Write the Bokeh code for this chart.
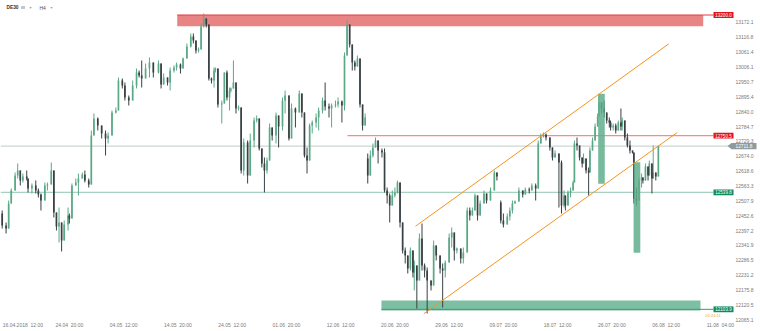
import numpy as np
from bokeh.plotting import figure
from bokeh.models import Range1d, ColumnDataSource
from bokeh.core.properties import value
from bokeh.embed import file_html
from bokeh.resources import INLINE

# ---------------- data (DE30, H4) ----------------
bar = [
    0, 3, 5, 7, 10, 12, 14, 16, 19, 20,
    23, 26, 28, 30, 33, 35, 38, 40, 42, 44,
    46, 48, 51, 52, 54, 57, 59, 62, 64, 67,
    69, 71, 74, 77, 80, 82, 85, 88, 90, 93,
    95, 98, 101, 104, 106, 108, 111, 114, 117, 121,
    123, 125, 128, 130, 133, 135, 138, 140, 143, 146,
    148, 150, 152, 154, 156, 158, 160, 162, 164, 165,
    167, 170, 172, 174, 176, 177, 179, 181, 183, 185,
    187, 190, 192, 195, 197, 199, 201, 203, 205, 207,
    209, 212, 214, 217, 219, 222, 224, 227, 230, 232,
    234, 236, 238, 240, 243, 245, 248, 250, 253, 255,
    258, 260, 263, 265, 267, 269, 271, 273, 275, 277,
    279, 281, 283, 285, 287, 289, 291, 294, 296, 298,
    300, 302, 304, 306, 308, 310, 312, 314, 316, 318,
    319, 321, 323, 325, 327, 329, 332, 334, 336, 339,
    341, 343, 346, 348, 350, 352, 355, 357, 360, 362,
    364, 366, 368, 370, 373, 375, 378, 381, 383, 386,
    388, 391, 393, 395, 397, 400, 403, 405, 408, 410,
    413, 415, 417, 419, 421, 424, 426, 428, 431, 433,
    435, 436, 438, 440, 442, 443, 445, 447, 449, 450,
    452, 454, 455, 457, 459, 461, 462, 464, 466, 468,
    470, 471, 473, 475, 477, 479, 480, 482, 484, 486,
    488, 489, 491, 493, 495, 496, 498, 500, 501, 503,
    504, 506, 508,
]
high = [
    12472.0, 12427.3, 12509.2, 12553.9, 12613.5, 12647.0, 12602.3, 12609.7, 12620.9, 12583.7,
    12572.5, 12583.7, 12553.9, 12535.3, 12576.2, 12576.2, 12650.7, 12620.9, 12464.5, 12483.1,
    12427.3, 12434.7, 12483.1, 12460.8, 12572.5, 12591.1, 12609.7, 12613.5, 12620.9, 12591.1,
    12769.9, 12833.2, 12818.3, 12788.5, 12769.9, 12762.4, 12844.4, 12855.5, 12967.3, 12963.5,
    12948.6, 12900.2, 12956.1, 13000.8, 12993.3, 13030.6, 13019.4, 13041.7, 13023.1, 13030.6,
    13019.4, 12982.1, 12967.3, 13004.5, 13011.9, 13023.1, 13019.4, 13041.7, 13093.9, 13131.1,
    13131.1, 13105.0, 13079.0, 13168.3, 13205.6, 13187.0, 13164.6, 12967.3, 13004.5, 13004.5,
    13000.8, 12881.6, 12985.9, 12993.3, 12930.0, 12930.0, 13030.6, 12948.6, 12863.0, 12855.5,
    12740.1, 12732.6, 12758.7, 12818.3, 12825.7, 12814.6, 12702.8, 12669.3, 12669.3, 12795.9,
    12781.1, 12836.9, 12825.7, 12892.8, 12918.8, 12900.2, 12870.4, 12855.5, 12918.8, 12907.7,
    12836.9, 12706.6, 12795.9, 12807.1, 12833.2, 12855.5, 12892.8, 12948.6, 12870.4, 12870.4,
    12881.6, 12892.8, 12881.6, 13060.4, 13179.5, 13164.6, 13090.1, 13030.6, 13049.2, 13038.0,
    12866.7, 12833.2, 12684.2, 12695.4, 12721.5, 12743.8, 12732.6, 12702.8, 12702.8, 12557.6,
    12535.3, 12546.4, 12557.6, 12583.7, 12576.2, 12427.3, 12334.2, 12304.4, 12334.2, 12323.0,
    12285.8, 12267.1, 12386.3, 12423.5, 12274.6, 12259.7, 12211.3, 12360.2, 12341.6, 12304.4,
    12274.6, 12285.8, 12386.3, 12408.7, 12390.0, 12334.2, 12330.5, 12334.2, 12483.1, 12483.1,
    12483.1, 12535.3, 12527.8, 12509.2, 12546.4, 12535.3, 12557.6, 12620.9, 12613.5, 12509.2,
    12460.8, 12460.8, 12483.1, 12509.2, 12509.2, 12557.6, 12546.4, 12557.6, 12557.6, 12572.5,
    12572.5, 12732.6, 12758.7, 12762.4, 12758.7, 12743.8, 12706.6, 12695.4, 12684.2, 12658.2,
    12546.4, 12527.8, 12546.4, 12557.6, 12583.7, 12732.6, 12743.8, 12714.0, 12669.3, 12684.2,
    12665.6, 12632.1, 12706.6, 12743.8, 12795.9, 12833.2, 12900.2, 12874.2, 12881.6, 12836.9,
    12818.3, 12807.1, 12795.9, 12795.9, 12807.1, 12851.8, 12818.3, 12807.1, 12758.7, 12732.6,
    12695.4, 12687.9, 12557.6, 12594.9, 12609.7, 12594.9, 12647.0, 12635.8, 12658.2, 12647.0,
    12714.0, 12613.5, 12714.0,
]
low = [
    12404.9, 12386.3, 12427.3, 12509.2, 12576.2, 12591.1, 12565.1, 12576.2, 12583.7, 12539.0,
    12535.3, 12535.3, 12520.4, 12472.0, 12509.2, 12546.4, 12583.7, 12445.9, 12397.5, 12352.8,
    12319.3, 12360.2, 12397.5, 12423.5, 12442.2, 12565.1, 12527.8, 12591.1, 12576.2, 12557.6,
    12568.8, 12751.3, 12769.9, 12740.1, 12676.8, 12721.5, 12751.3, 12833.2, 12844.4, 12926.3,
    12881.6, 12863.0, 12881.6, 12926.3, 12967.3, 12930.0, 12963.5, 12967.3, 12967.3, 12982.1,
    12926.3, 12941.2, 12937.5, 12918.8, 12985.9, 12993.3, 12982.1, 13000.8, 13038.0, 13079.0,
    13093.9, 13056.6, 13060.4, 13071.5, 13153.5, 13153.5, 12956.1, 12944.9, 12930.0, 12985.9,
    12855.5, 12795.9, 12870.4, 12881.6, 12844.4, 12911.4, 12926.3, 12833.2, 12844.4, 12609.7,
    12602.3, 12572.5, 12602.3, 12706.6, 12799.7, 12695.4, 12632.1, 12539.0, 12609.7, 12658.2,
    12732.6, 12721.5, 12706.6, 12769.9, 12833.2, 12732.6, 12740.1, 12781.1, 12836.9, 12818.3,
    12669.3, 12609.7, 12658.2, 12758.7, 12781.1, 12769.9, 12833.2, 12844.4, 12818.3, 12781.1,
    12855.5, 12855.5, 12799.7, 12844.4, 13049.2, 13079.0, 12993.3, 12993.3, 13008.2, 12855.5,
    12769.9, 12788.5, 12572.5, 12602.3, 12669.3, 12706.6, 12647.0, 12669.3, 12539.0, 12498.0,
    12427.3, 12490.6, 12520.4, 12535.3, 12408.7, 12311.8, 12274.6, 12237.4, 12248.5, 12222.5,
    12174.0, 12107.0, 12211.3, 12248.5, 12222.5, 12088.4, 12174.0, 12192.7, 12285.8, 12237.4,
    12110.7, 12222.5, 12278.3, 12334.2, 12285.8, 12311.8, 12274.6, 12274.6, 12315.6, 12434.7,
    12453.3, 12472.0, 12434.7, 12453.3, 12498.0, 12498.0, 12509.2, 12546.4, 12583.7, 12423.5,
    12408.7, 12419.8, 12434.7, 12460.8, 12498.0, 12505.5, 12520.4, 12531.5, 12535.3, 12546.4,
    12509.2, 12553.9, 12721.5, 12743.8, 12732.6, 12695.4, 12658.2, 12669.3, 12483.1, 12460.8,
    12483.1, 12472.0, 12490.6, 12520.4, 12546.4, 12576.2, 12695.4, 12658.2, 12632.1, 12647.0,
    12609.7, 12527.8, 12613.5, 12695.4, 12732.6, 12784.8, 12822.0, 12833.2, 12818.3, 12795.9,
    12781.1, 12769.9, 12769.9, 12758.7, 12769.9, 12769.9, 12769.9, 12732.6, 12706.6, 12684.2,
    12684.2, 12498.0, 12490.6, 12509.2, 12557.6, 12572.5, 12583.7, 12583.7, 12602.3, 12535.3,
    12591.1, 12583.7, 12598.6,
]
close = [
    12416.1, 12404.9, 12498.0, 12546.4, 12602.3, 12620.9, 12583.7, 12598.6, 12591.1, 12553.9,
    12565.1, 12546.4, 12531.5, 12509.2, 12565.1, 12568.8, 12620.9, 12464.5, 12412.4, 12427.3,
    12360.2, 12419.8, 12453.3, 12442.2, 12565.1, 12576.2, 12591.1, 12606.0, 12583.7, 12568.8,
    12751.3, 12814.6, 12788.5, 12758.7, 12740.1, 12751.3, 12836.9, 12844.4, 12956.1, 12937.5,
    12892.8, 12881.6, 12937.5, 12985.9, 12974.7, 12963.5, 13000.8, 13023.1, 12985.9, 13019.4,
    12941.2, 12967.3, 12948.6, 12993.3, 13004.5, 13015.7, 13000.8, 13038.0, 13082.7, 13119.9,
    13105.0, 13067.8, 13071.5, 13157.2, 13187.0, 13164.6, 12963.5, 12956.1, 12993.3, 13000.8,
    12866.7, 12870.4, 12985.9, 12892.8, 12918.8, 12926.3, 12948.6, 12851.8, 12855.5, 12620.9,
    12725.2, 12602.3, 12732.6, 12807.1, 12814.6, 12702.8, 12647.0, 12620.9, 12658.2, 12781.1,
    12751.3, 12825.7, 12784.8, 12881.6, 12900.2, 12740.1, 12851.8, 12836.9, 12907.7, 12836.9,
    12676.8, 12658.2, 12788.5, 12799.7, 12818.3, 12844.4, 12881.6, 12859.3, 12851.8, 12863.0,
    12866.7, 12877.9, 12863.0, 13049.2, 13164.6, 13090.1, 13023.1, 13008.2, 13038.0, 12866.7,
    12788.5, 12818.3, 12602.3, 12676.8, 12706.6, 12732.6, 12695.4, 12687.9, 12546.4, 12527.8,
    12490.6, 12527.8, 12539.0, 12576.2, 12427.3, 12323.0, 12304.4, 12256.0, 12323.0, 12241.1,
    12267.1, 12211.3, 12367.7, 12267.1, 12248.5, 12211.3, 12192.7, 12341.6, 12304.4, 12256.0,
    12248.5, 12278.3, 12371.4, 12390.0, 12323.0, 12330.5, 12293.2, 12315.6, 12472.0, 12453.3,
    12472.0, 12527.8, 12453.3, 12498.0, 12535.3, 12509.2, 12546.4, 12613.5, 12598.6, 12434.7,
    12419.8, 12449.6, 12472.0, 12498.0, 12505.5, 12546.4, 12531.5, 12550.2, 12546.4, 12565.1,
    12553.9, 12721.5, 12747.5, 12755.0, 12743.8, 12706.6, 12669.3, 12684.2, 12650.7, 12490.6,
    12527.8, 12490.6, 12539.0, 12546.4, 12576.2, 12721.5, 12714.0, 12669.3, 12647.0, 12665.6,
    12620.9, 12613.5, 12695.4, 12732.6, 12784.8, 12822.0, 12874.2, 12851.8, 12836.9, 12807.1,
    12799.7, 12781.1, 12788.5, 12769.9, 12799.7, 12784.8, 12807.1, 12743.8, 12714.0, 12695.4,
    12687.9, 12516.6, 12509.2, 12583.7, 12594.9, 12583.7, 12635.8, 12602.3, 12647.0, 12591.1,
    12613.5, 12598.6, 12711.8,
]
first_open = 12460.8
gap_open = {122: 12665.6, 169: 12501.8}   # weekend gaps

price_ticks = [12065.1, 12120.5, 12175.8, 12231.2, 12286.5, 12341.9, 12397.2,
               12452.6, 12507.9, 12563.3, 12618.6, 12674.0, 12729.3, 12784.7,
               12840.0, 12895.4, 12950.7, 13006.1, 13061.4, 13116.8, 13172.1]
time_ticks = [16, 52, 94, 136, 178, 220, 262, 304, 346, 388, 430, 472, 514, 556]
time_labels = ["16.04.2018  12:00", "24.04  20:00", "04.05  12:00", "14.05  20:00",
               "24.05  12:00", "01.06  20:00", "12.06  12:00", "20.06  20:00",
               "29.06  12:00", "09.07  20:00", "18.07  12:00", "26.07  20:00",
               "06.08  12:00", "11.08  04:00"]

# drawn objects (time in bars, price)
resist_zone = dict(bar0=135.5, bar1=542.7, bottom=13158.3, top=13200.0)
support_zone = dict(bar0=293.6, bar1=540.6, bottom=12099.6, top=12136.8)
red_level_top = 13200.0
red_level = 12750.5
red_level_start = 267.3
last_price = 12711.8
support_level = 12539.8
bottom_level = 12103.9
chan_up_bars = [320.0, 516.1]
chan_up_prices = [12413.5, 13092.8]
chan_lo_bars = [326.4, 522.6]
chan_lo_prices = [12087.3, 12762.4]
vbox_bars0 = [461.4, 488.8]
vbox_bars1 = [466.5, 494.0]
vbox_top = [12906.5, 12651.9]
vbox_bottom = [12571.4, 12314.4]

# ---------------- layout helpers (pixel -> data) ----------------
X0, PXB = 1.7, 1.2917
YT, PPP = 13254.0, 3.724
W, H = 760, 331


def bx(px):
    return (px - X0) / PXB


def py(pix):
    return YT - pix * PPP


FONT = "Liberation Sans"
AXIS_COL = "#7a7a7a"

p = figure(width=W, height=H, output_backend="svg", toolbar_location=None,
           x_range=Range1d(bx(0), bx(W)), y_range=Range1d(py(H), py(0)),
           x_axis_location=None, y_axis_location=None,
           min_border=0, background_fill_color="white", border_fill_color="white",
           outline_line_color=None)
p.xgrid.visible = False
p.ygrid.visible = False

# time scale labels (bottom)
p.text(x=time_ticks, y=[py(324.5)] * len(time_ticks),
       text=[l.replace("  ", "\u00a0\u00a0") for l in time_labels],
       text_font=value(FONT), text_font_size=value("5px"), text_color=AXIS_COL,
       text_align="center", text_baseline="middle")

# price scale labels (right side)
p.text(x=[bx(735)] * len(price_ticks), y=price_ticks, text=[f"{v:.1f}" for v in price_ticks],
       text_font=value(FONT), text_font_size=value("5px"), text_color=AXIS_COL,
       text_align="left", text_baseline="middle")

# zones
p.quad(left=[resist_zone["bar0"]], right=[resist_zone["bar1"]],
       bottom=[resist_zone["bottom"]], top=[resist_zone["top"]],
       fill_color="#e98484", line_color=None)
p.quad(left=[support_zone["bar0"]], right=[support_zone["bar1"]],
       bottom=[support_zone["bottom"]], top=[support_zone["top"]],
       fill_color="#7dbfa3", line_color=None)

# horizontal levels
tag_left = bx(713)
p.line([resist_zone["bar0"], tag_left], [red_level_top] * 2, line_color="#e23b3b", line_width=1)
p.line([red_level_start, tag_left], [red_level] * 2, line_color="#ef7070", line_width=1)
p.line([bx(0), bx(729)], [last_price] * 2, line_color="#c2cbc8", line_width=1)
p.line([bx(0), tag_left], [support_level] * 2, line_color="#8fc6ae", line_width=1)
p.line([support_zone["bar0"], tag_left], [bottom_level] * 2, line_color="#3d9a74", line_width=1)

# candles
c = np.array(close, dtype=float)
o = np.array([first_open] + close[:-1], dtype=float)
for k, v in gap_open.items():
    o[k] = v
h = np.maximum(np.array(high, dtype=float), np.maximum(o, c))
lo = np.minimum(np.array(low, dtype=float), np.minimum(o, c))
xb = np.array(bar, dtype=float)
up = c >= o
for mask, col in ((up, "#5aa986"), (~up, "#394044")):
    src = ColumnDataSource(dict(x=xb[mask], h=h[mask], l=lo[mask],
                                top=np.maximum(o, c)[mask], bot=np.minimum(o, c)[mask]))
    p.segment(x0="x", y0="l", x1="x", y1="h", source=src, line_color=col, line_width=1)
    p.vbar(x="x", width=1.3, top="top", bottom="bot", source=src, fill_color=col, line_color=None)

# vertical gap boxes
p.quad(left=vbox_bars0, right=vbox_bars1, top=vbox_top, bottom=vbox_bottom,
       fill_color="#5fae8c", fill_alpha=0.85, line_color=None)

# channel
p.line(chan_up_bars, chan_up_prices, line_color="#f7931e", line_width=1)
p.line(chan_lo_bars, chan_lo_prices, line_color="#f7931e", line_width=1)

# price tags (right edge)
HALF = 2.9 * PPP
tag_prices = [red_level_top, red_level, support_level, bottom_level]
tag_colors = ["#e0141e", "#e0141e", "#0e8a5f", "#0e8a5f"]
p.quad(left=[tag_left] * 4, right=[bx(733)] * 4,
       bottom=[v - HALF for v in tag_prices], top=[v + HALF for v in tag_prices],
       fill_color=tag_colors, line_color=None)
p.text(x=[bx(723)] * 4, y=tag_prices, text=[f"{v:.1f}" for v in tag_prices],
       text_font=value(FONT), text_font_size=value("4.5px"), text_color="white",
       text_align="center", text_baseline="middle")
# last price tag with arrow
p.patch(x=[bx(727), bx(731), bx(756), bx(756), bx(731)],
        y=[last_price, last_price + 3.2 * PPP, last_price + 3.2 * PPP,
           last_price - 3.2 * PPP, last_price - 3.2 * PPP],
        fill_color="#8f9a9c", line_color=None)
p.text(x=[bx(743.5)], y=[last_price], text=[f"{last_price:.1f}"],
       text_font=value(FONT), text_font_size=value("4.8px"), text_color="white",
       text_align="center", text_baseline="middle")

# header
p.text(x=[bx(6)], y=[py(7)], text=["DE30"], text_font=value(FONT), text_font_size=value("4.8px"),
       text_font_style="bold", text_color="#333333", text_baseline="middle")
p.quad(left=[bx(20.5)], right=[bx(24.5)], bottom=[py(8.5)], top=[py(5.5)],
       fill_color="#c4c8cc", line_color=None)
p.text(x=[bx(29), bx(50)], y=[py(7)] * 2, text=["\u25be", "\u25be"],
       text_font=value("DejaVu Sans"), text_font_size=value("4px"),
       text_color="#9a9a9a", text_baseline="middle")
p.text(x=[bx(39)], y=[py(7)], text=["H4"], text_font=value(FONT), text_font_size=value("5px"),
       text_color="#555555", text_baseline="middle")
p.text(x=[bx(705)], y=[py(314.5)], text=["01:24:11"], text_font=value(FONT),
       text_font_size=value("4px"), text_color="#f0a040", text_baseline="middle")

open("out.html", "w").write(file_html(p, INLINE))
